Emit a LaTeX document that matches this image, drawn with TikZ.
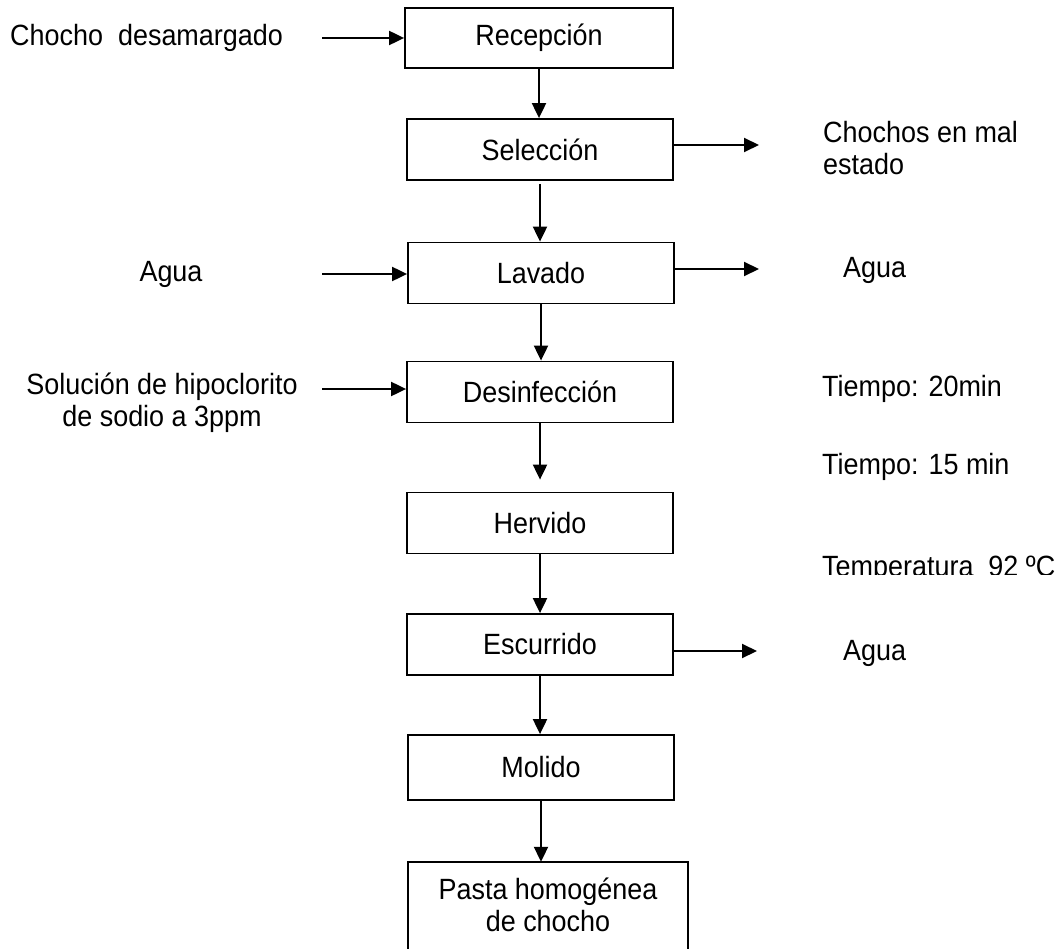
\documentclass[tikz,border=0pt]{standalone}
\usepackage{fontspec}
\setmainfont{Liberation Sans}[FakeStretch=0.92]
\usetikzlibrary{arrows.meta}
\begin{document}
\begin{tikzpicture}[x=1pt,y=-1pt,
  every node/.style={font=\fontsize{29.3}{32}\selectfont},
  stage/.style={draw,line width=1.8pt,inner sep=0pt,align=center,
    minimum width=266pt,minimum height=61pt},
  boxline/.style={line width=1.8pt},
  flow/.style={line width=2pt,-{Triangle[length=15pt,width=14pt]}},
  lbl/.style={inner sep=0pt,align=center},
  note/.style={inner sep=0pt,align=left,anchor=west},
]
\useasboundingbox (0,0) rectangle (1064,949);
\fill[white] (0,0) rectangle (1064,949);
\clip (0,0) rectangle (1064,949);

% process stages
\node[stage,minimum width=268pt,minimum height=60pt] (rec) at (539,38) {Recepción};
\node[stage] (sel) at (540,149.5) {Selección};
\node[stage] (lav) at (541,273) {Lavado};
\node[stage] (des) at (540,392) {Desinfección};
\node[stage] (her) at (540,523) {Hervido};
\node[stage] (esc) at (540,644.5) {Escurrido};
\node[stage,minimum height=65pt] (mol) at (541,767.5) {Molido};
\node[lbl,minimum width=280pt,minimum height=86pt] (pas) at (548,905)
  {Pasta homogénea\\de chocho};
\draw[boxline] ([yshift=-20pt]pas.south west) rectangle (pas.north east);

% main flow
\draw[flow] (rec.south) -- (rec.south |- sel.north);
\draw[flow,shorten <=3pt] (sel.south) -- (sel.south |- lav.north);
\draw[flow] (lav.south) -- (lav.south |- des.north);
\draw[flow,shorten >=12pt] (des.south) -- (des.south |- her.north);
\draw[flow] (her.south) -- (her.south |- esc.north);
\draw[flow] (esc.south) -- (esc.south |- mol.north);
\draw[flow] (mol.south) -- (mol.south |- pas.north);

% inputs
\node[note] (inRec) at (10,38) {Chocho~~desamargado};
\node[lbl] (inLav) at (171,274) {Agua};
\node[lbl] (inDes) at (162,403) {Solución de hipoclorito\\de sodio a 3ppm};
\coordinate (aRec) at (322,38);
\coordinate (aLav) at (322,274);
\coordinate (aDes) at (322,389);
\draw[flow] (aRec) -- (rec.west |- aRec);
\draw[flow] (aLav) -- (lav.west |- aLav);
\draw[flow] (aDes) -- (des.west |- aDes);

% outputs
\coordinate (oSel) at (759,145);
\coordinate (oLav) at (759,269);
\coordinate (oEsc) at (757,651);
\draw[flow] (sel.east |- oSel) -- (oSel);
\draw[flow] (lav.east |- oLav) -- (oLav);
\draw[flow] (esc.east |- oEsc) -- (oEsc);
\node[note] (tSel) at (823,148) {Chochos en mal\\estado};
\node[note] (tLav) at (843,270) {Agua};
\node[note] (tEsc) at (843,653) {Agua};

% process conditions
\node[note] (tDes) at (822,389) {Tiempo: 20min};
\node[note] (tHer) at (822,467) {Tiempo: 15 min};
\begin{scope}
  \clip (800,540) rectangle (1064,574);
  \node[inner sep=0pt,anchor=base west] (tTemp) at (822,576) {Temperatura~~92 ºC};
\end{scope}
\end{tikzpicture}
\end{document}
